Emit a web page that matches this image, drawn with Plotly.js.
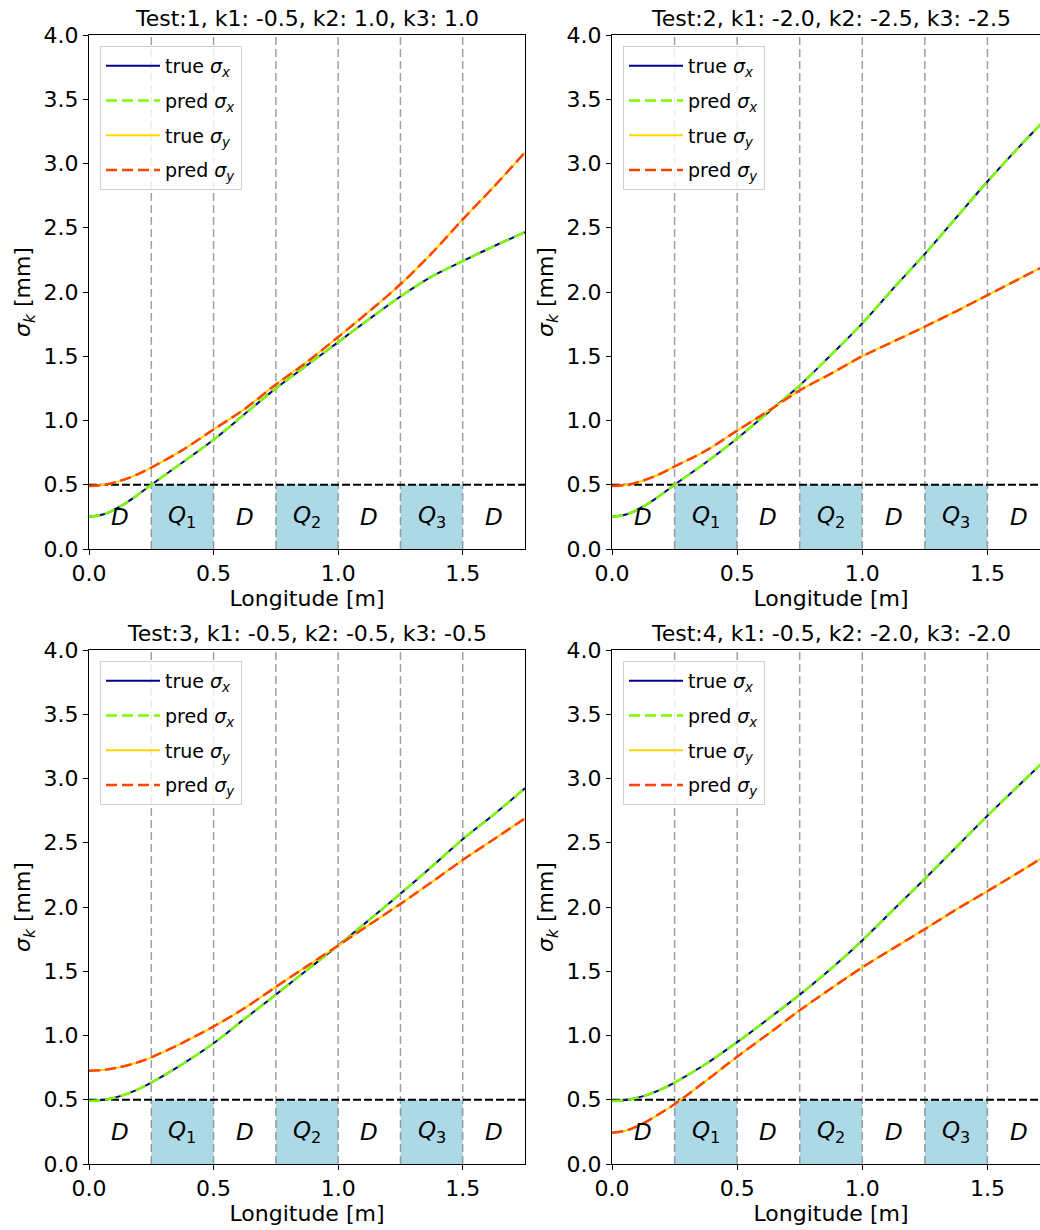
<!DOCTYPE html>
<html><head><meta charset="utf-8">
<script src="https://cdn.plot.ly/plotly-3.0.1.min.js"></script>
<style>html,body{margin:0;padding:0;overflow:hidden;background:#fff;} #chart{width:1060px;height:1230px;}</style>
</head><body><div id="chart"></div>
<script>
// ---- data ----
const longitude = [0,0.0625,0.125,0.1875,0.25,0.375,0.5,0.625,0.75,0.875,1.0,1.125,1.25,1.375,1.5,1.625,1.75];

const test1_true_sx = [0.25,0.272,0.331,0.41,0.5,0.673,0.85,1.05,1.25,1.43,1.61,1.79,1.965,2.12,2.24,2.356,2.465];
const test1_pred_sx = [0.25,0.272,0.331,0.41,0.5,0.673,0.85,1.05,1.25,1.43,1.61,1.79,1.965,2.12,2.24,2.356,2.465];
const test1_true_sy = [0.49,0.50,0.53,0.575,0.634,0.77,0.93,1.09,1.28,1.456,1.65,1.85,2.06,2.30,2.565,2.82,3.087];
const test1_pred_sy = [0.49,0.50,0.53,0.575,0.634,0.77,0.93,1.09,1.28,1.456,1.65,1.85,2.06,2.30,2.565,2.82,3.087];

const test2_true_sx = [0.25,0.272,0.331,0.41,0.5,0.673,0.86,1.065,1.273,1.51,1.756,2.03,2.296,2.578,2.86,3.126,3.38];
const test2_pred_sx = [0.25,0.272,0.331,0.41,0.5,0.673,0.86,1.065,1.273,1.51,1.756,2.03,2.296,2.578,2.86,3.126,3.38];
const test2_true_sy = [0.49,0.50,0.533,0.58,0.642,0.765,0.921,1.075,1.234,1.365,1.50,1.615,1.73,1.85,1.975,2.10,2.225];
const test2_pred_sy = [0.49,0.50,0.533,0.58,0.642,0.765,0.921,1.075,1.234,1.365,1.50,1.615,1.73,1.85,1.975,2.10,2.225];

const test3_true_sx = [0.49,0.50,0.528,0.573,0.634,0.778,0.94,1.13,1.318,1.51,1.70,1.90,2.104,2.313,2.527,2.72,2.924];
const test3_pred_sx = [0.49,0.50,0.528,0.573,0.634,0.778,0.94,1.13,1.318,1.51,1.70,1.90,2.104,2.313,2.527,2.72,2.924];
const test3_true_sy = [0.726,0.733,0.754,0.786,0.83,0.943,1.07,1.214,1.378,1.54,1.70,1.862,2.024,2.193,2.366,2.527,2.69];
const test3_pred_sy = [0.726,0.733,0.754,0.786,0.83,0.943,1.07,1.214,1.378,1.54,1.70,1.862,2.024,2.193,2.366,2.527,2.69];

const test4_true_sx = [0.49,0.50,0.528,0.573,0.634,0.778,0.948,1.13,1.318,1.52,1.74,1.98,2.22,2.465,2.71,2.945,3.18];
const test4_pred_sx = [0.49,0.50,0.528,0.573,0.634,0.778,0.948,1.13,1.318,1.52,1.74,1.98,2.22,2.465,2.71,2.945,3.18];
const test4_true_sy = [0.243,0.263,0.316,0.388,0.465,0.647,0.835,1.013,1.196,1.366,1.53,1.68,1.828,1.98,2.123,2.27,2.42];
const test4_pred_sy = [0.243,0.263,0.316,0.388,0.465,0.647,0.835,1.013,1.196,1.366,1.53,1.68,1.828,1.98,2.123,2.27,2.42];

const testTitles = [
  'Test:1, k1: -0.5, k2: 1.0, k3: 1.0',
  'Test:2, k1: -2.0, k2: -2.5, k3: -2.5',
  'Test:3, k1: -0.5, k2: -0.5, k3: -0.5',
  'Test:4, k1: -0.5, k2: -2.0, k3: -2.0'
];
const seriesNames = ['true <i>σ</i><sub><i>x</i></sub>','pred <i>σ</i><sub><i>x</i></sub>','true <i>σ</i><sub><i>y</i></sub>','pred <i>σ</i><sub><i>y</i></sub>'];
const xTickVals = [0,0.5,1.0,1.5];
const xTickText = ['0.0','0.5','1.0','1.5'];
const quadStarts = [0.25,0.75,1.25];
const quadEnds = [0.5,1.0,1.5];
const elementBounds = [0.25,0.5,0.75,1.0,1.25,1.5];
const elementCenters = [0.125,0.375,0.625,0.875,1.125,1.375,1.625];
const elementLabels = ['<i>D</i>','<i>Q</i><sub>1</sub>','<i>D</i>','<i>Q</i><sub>2</sub>','<i>D</i>','<i>Q</i><sub>3</sub>','<i>D</i>'];
const thresholdLevel = 0.5;
const apertureHalf = 0.5;

const tests = [
  [test1_true_sx,test1_pred_sx,test1_true_sy,test1_pred_sy],
  [test2_true_sx,test2_pred_sx,test2_true_sy,test2_pred_sy],
  [test3_true_sx,test3_pred_sx,test3_true_sy,test3_pred_sy],
  [test4_true_sx,test4_pred_sx,test4_true_sy,test4_pred_sy]
];

// ---- styles ----
const FONT = 'DejaVu Sans, sans-serif';
const W = 1060, H = 1230;
const xDom = [[89/W,525/W],[612/W,1050/W]];
const yDom = [[681/H,1195/H],[66/H,580/H]];
const lineStyles = [
  {color:'#00008b', width:2, dash:'solid'},
  {color:'#7cfc00', width:2.5, dash:'11px,5px'},
  {color:'#ffd700', width:2, dash:'solid'},
  {color:'#ff4500', width:2.5, dash:'11px,5px'}
];

const traces = [];
const shapes = [];
const annotations = [];
const layout = {
  width:W, height:H, margin:{l:0,r:0,t:0,b:0},
  paper_bgcolor:'#fff', plot_bgcolor:'#fff',
  font:{family:FONT, color:'#000'},
  showlegend:true
};

for (let i=0;i<4;i++){
  const n = i+1;
  const sfx = n===1 ? '' : String(n);
  const col = i%2, row = Math.floor(i/2);
  const xa = 'x'+sfx, ya = 'y'+sfx;
  const lg = 'legend'+sfx;
  tests[i].forEach((ys,k)=>{
    traces.push({
      x:longitude, y:ys, type:'scatter', mode:'lines',
      name:seriesNames[k], xaxis:xa, yaxis:ya, legend:lg,
      legendgroup:'g'+n+'_'+k,
      line:Object.assign({shape:'spline', smoothing:0.9}, lineStyles[k]),
      hoverinfo:'skip'
    });
  });
  layout['xaxis'+sfx] = {
    domain:xDom[col], anchor:ya, range:[0,1.75],
    tickvals:xTickVals, ticktext:xTickText, ticks:'outside', ticklen:5, tickwidth:1, tickcolor:'#000',
    showline:true, mirror:true, linecolor:'#000', linewidth:1, showgrid:false, zeroline:false,
    tickfont:{family:FONT,size:22,color:'#000'},
    title:{text:'Longitude [m]', font:{family:FONT,size:22,color:'#000'}, standoff:4}
  };
  layout['yaxis'+sfx] = {
    domain:yDom[row], anchor:xa, range:[0,4], dtick:0.5, tick0:0, tickformat:'.1f',
    ticks:'outside', ticklen:5, tickwidth:1, tickcolor:'#000',
    showline:true, mirror:true, linecolor:'#000', linewidth:1, showgrid:false, zeroline:false,
    tickfont:{family:FONT,size:22,color:'#000'},
    title:{text:'<i>σ</i><sub><i>k</i></sub> [mm]', font:{family:FONT,size:22,color:'#000'}, standoff:6}
  };
  layout[lg] = {
    x:(col===0?100:623)/W, y:(H-(row===0?46:661))/H, xanchor:'left', yanchor:'top',
    bgcolor:'rgba(255,255,255,0.8)', bordercolor:'#d0d0d0', borderwidth:1,
    font:{family:FONT,size:19,color:'#000'}, tracegroupgap:7, itemwidth:54
  };
  quadStarts.forEach((s,j)=>{
    shapes.push({type:'rect', xref:xa, yref:ya, x0:s, x1:quadEnds[j], y0:0, y1:apertureHalf,
      fillcolor:'#add8e6', line:{width:0}, layer:'below'});
  });
  elementBounds.forEach(b=>{
    shapes.push({type:'line', xref:xa, yref:ya, x0:b, x1:b, y0:0, y1:4,
      line:{color:'rgba(128,128,128,0.75)', width:1.5, dash:'8px,4px'}, layer:'below'});
  });
  shapes.push({type:'line', xref:xa, yref:ya, x0:0, x1:1.75, y0:thresholdLevel, y1:thresholdLevel,
    line:{color:'#000', width:2, dash:'8px,3px'}, layer:'below'});
  elementCenters.forEach((c,j)=>{
    annotations.push({xref:xa, yref:ya, x:c, y:0.25, text:elementLabels[j], showarrow:false,
      font:{family:FONT,size:23,color:'#000'}, xanchor:'center', yanchor:'middle'});
  });
  const cx = (xDom[col][0]+xDom[col][1])/2;
  annotations.push({xref:'paper', yref:'paper', x:cx, y:(H-(row===0?33:648))/H, xanchor:'center', yanchor:'bottom',
    text:testTitles[i], showarrow:false, font:{family:FONT,size:22,color:'#000'}});
}
layout.shapes = shapes;
layout.annotations = annotations;

Plotly.newPlot('chart', traces, layout, {displayModeBar:false, staticPlot:true});
</script></body></html>
